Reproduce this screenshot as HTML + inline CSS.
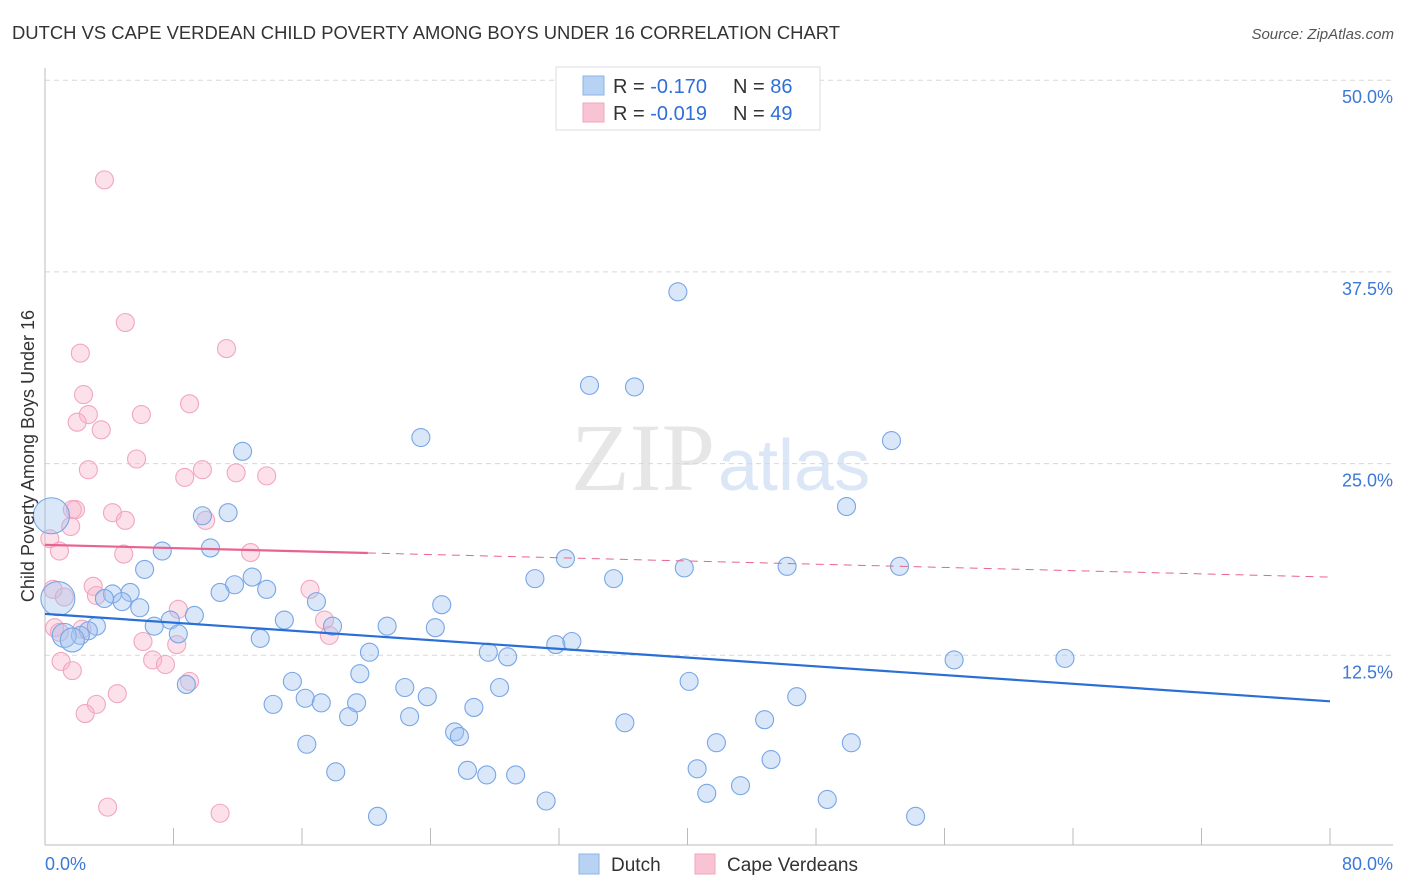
<!DOCTYPE html>
<html><head><meta charset="utf-8"><style>
body{margin:0;background:#fff;font-family:"Liberation Sans",sans-serif;}
svg{display:block}
</style></head><body>
<svg id="chart" width="1406" height="892">
<text x="12" y="39" font-size="18" fill="#333" textLength="828" lengthAdjust="spacingAndGlyphs">DUTCH VS CAPE VERDEAN CHILD POVERTY AMONG BOYS UNDER 16 CORRELATION CHART</text>
<text x="1394" y="39" font-size="15" fill="#555" font-style="italic" text-anchor="end">Source: ZipAtlas.com</text>
<text x="715" y="490" font-size="96" fill="#e6e6e6" text-anchor="end" font-family="Liberation Serif,serif">ZIP</text>
<text x="718" y="490" font-size="72" fill="#dbe6f6">atlas</text>
<g id="grid"></g>
<g id="axes"></g>
<g id="pts"></g>
<g id="trends"></g>
<text transform="translate(34,456) rotate(-90)" font-size="18" fill="#333" text-anchor="middle">Child Poverty Among Boys Under 16</text>
<g>
<rect x="556" y="67" width="264" height="63" fill="#fff" stroke="#ddd"/>
<rect x="583" y="76" width="21" height="19" fill="#b8d2f3" stroke="#8ab4ea"/>
<rect x="583" y="103" width="21" height="19" fill="#f8c4d4" stroke="#f0a6bd"/>
<text x="613" y="93" font-size="20" fill="#333">R = <tspan fill="#2f6fd6">-0.170</tspan><tspan x="733">N = </tspan><tspan fill="#2f6fd6">86</tspan></text>
<text x="613" y="120" font-size="20" fill="#333">R = <tspan fill="#2f6fd6">-0.019</tspan><tspan x="733">N = </tspan><tspan fill="#2f6fd6">49</tspan></text>
</g>
<g>
<rect x="579" y="854" width="20" height="20" fill="#b8d2f3" stroke="#8ab4ea"/>
<text x="611" y="871" font-size="19" fill="#333">Dutch</text>
<rect x="695" y="854" width="20" height="20" fill="#f8c4d4" stroke="#f0a6bd"/>
<text x="727" y="871" font-size="19" fill="#333">Cape Verdeans</text>
</g>
</svg>
<script>
const yTicks=[12.5,25,37.5,50];
const yTickLabels=["12.5%","25.0%","37.5%","50.0%"];
const xTickLabels=["0.0%","80.0%"];
const dutchX=[39.4,33.9,36.7,23.4,52.7,12.3,49.9,9.8,11.4,10.3,7.3,32.4,6.2,39.8,46.2,53.2,30.5,35.4,12.9,11.8,13.8,10.9,5.3,4.2,3.7,4.8,16.9,24.7,5.9,9.3,7.8,14.9,6.8,17.9,21.3,24.3,3.2,2.7,8.3,2.2,1.2,1.7,13.4,32.8,31.8,20.2,27.6,28.8,56.6,63.5,19.6,15.4,40.1,8.8,22.4,28.3,23.8,46.8,16.2,14.2,17.2,19.4,26.7,18.9,22.7,44.8,36.1,25.5,25.8,16.3,41.8,50.2,45.2,40.6,18.1,26.3,27.5,29.3,43.3,41.2,31.2,48.7,20.7,54.2,0.8,0.4];
const dutchY=[36.2,30.1,30.0,26.7,26.5,25.8,22.2,21.6,21.8,19.5,19.3,18.8,18.1,18.2,18.3,18.3,17.5,17.5,17.6,17.1,16.8,16.6,16.6,16.5,16.2,16.0,16.0,15.8,15.6,15.1,14.8,14.8,14.4,14.4,14.4,14.3,14.4,14.1,13.9,13.8,13.8,13.5,13.6,13.4,13.2,12.7,12.7,12.4,12.2,12.3,11.3,10.8,10.8,10.6,10.4,10.4,9.8,9.8,9.7,9.3,9.4,9.4,9.1,8.5,8.5,8.3,8.1,7.5,7.2,6.7,6.8,6.8,5.7,5.1,4.9,5.0,4.7,4.7,4.0,3.5,3.0,3.1,2.0,2.0,16.2,21.6];
const dutchR=[9,9,9,9,9,9,9,9,9,9,9,9,9,9,9,9,9,9,9,9,9,9,9,9,9,9,9,9,9,9,9,9,9,9,9,9,9,9,9,9,12,12,9,9,9,9,9,9,9,9,9,9,9,9,9,9,9,9,9,9,9,9,9,9,9,9,9,9,9,9,9,9,9,9,9,9,9,9,9,9,9,9,9,9,17,18];
const capeX=[3.7,5.0,11.3,2.2,2.4,9.0,2.7,6.0,2.0,3.5,5.7,2.7,9.8,8.7,11.9,13.8,1.9,1.7,4.2,10.0,5.0,1.6,0.3,0.9,4.9,12.8,0.5,3.0,16.5,1.2,3.2,8.3,17.4,0.6,2.3,0.9,17.7,6.1,8.2,1.0,6.7,7.5,1.7,9.0,4.5,3.2,2.5,3.9,10.9];
const capeY=[43.5,34.2,32.5,32.2,29.5,28.9,28.2,28.2,27.7,27.2,25.3,24.6,24.6,24.1,24.4,24.2,22.0,22.0,21.8,21.3,21.3,20.9,20.1,19.3,19.1,19.2,16.8,17.0,16.8,16.3,16.4,15.5,14.8,14.3,14.2,14.0,13.8,13.4,13.2,12.1,12.2,11.9,11.5,10.8,10.0,9.3,8.7,2.6,2.2];
const dutchTrend=[15.2,9.5];
const capeTrend=[19.7,17.6];
const X0=45,X1=1330,Y0=847,PPY=191.7/12.5;
const sx=v=>X0+(v/80)*(X1-X0);
const sy=v=>Y0-v*PPY;
const NS="http://www.w3.org/2000/svg";
function mk(p,t,a){const e=document.createElementNS(NS,t);for(const k in a)e.setAttribute(k,a[k]);p.appendChild(e);return e;}
const grid=document.getElementById('grid'),axes=document.getElementById('axes'),pts=document.getElementById('pts'),tr=document.getElementById('trends');
yTicks.forEach((t,i)=>{
 const l=mk(grid,'line',{x1:X0,x2:1393,y1:sy(t),y2:sy(t),stroke:'#d8d8d8','stroke-dasharray':'5,4'});
 
 
 const tx=mk(grid,'text',{x:1393,y:sy(t)+23,'font-size':18,fill:'#3b78d8','text-anchor':'end'});
 tx.textContent=yTickLabels[i];
 
 
});
let a=mk(axes,'line',{x1:X0,x2:X0,y1:68,y2:845,stroke:'#bbb'});


a=mk(axes,'line',{x1:X0,x2:1393,y1:845,y2:845,stroke:'#bbb'});


for(let i=0;i<=10;i++){
 const t=mk(axes,'line',{x1:sx(i*8),x2:sx(i*8),y1:828,y2:845,stroke:'#bbb'});
 
 
}
[[X0,'start'],[1393,'end']].forEach((p,i)=>{
 const t=mk(axes,'text',{x:p[0],y:870,'font-size':18,fill:'#3b78d8','text-anchor':p[1]});
 t.textContent=xTickLabels[i];
 
 
});
capeX.forEach((v,i)=>{
 const c=mk(pts,'circle',{cx:sx(v),cy:sy(capeY[i]),r:9,fill:'rgba(248,180,204,0.4)',stroke:'#f2a6be','stroke-width':1.1});
 
 
});
dutchX.forEach((v,i)=>{
 const c=mk(pts,'circle',{cx:sx(v),cy:sy(dutchY[i]),r:dutchR[i],fill:'rgba(160,196,240,0.4)',stroke:'#78a6e6','stroke-width':1.1});
 
 
});
let t=mk(tr,'line',{x1:sx(0),x2:sx(80),y1:sy(dutchTrend[0]),y2:sy(dutchTrend[1]),stroke:'#2a6fd6','stroke-width':2.2});


const cm=v=>capeTrend[0]+(capeTrend[1]-capeTrend[0])*v/80;
t=mk(tr,'line',{x1:sx(0),x2:sx(20.1),y1:sy(cm(0)),y2:sy(cm(20.1)),stroke:'#e8648e','stroke-width':2.2});


t=mk(tr,'line',{x1:sx(20.1),x2:sx(80),y1:sy(cm(20.1)),y2:sy(cm(80)),stroke:'#e8648e','stroke-width':1,'stroke-dasharray':'8,6'});


</script>
</body></html>
